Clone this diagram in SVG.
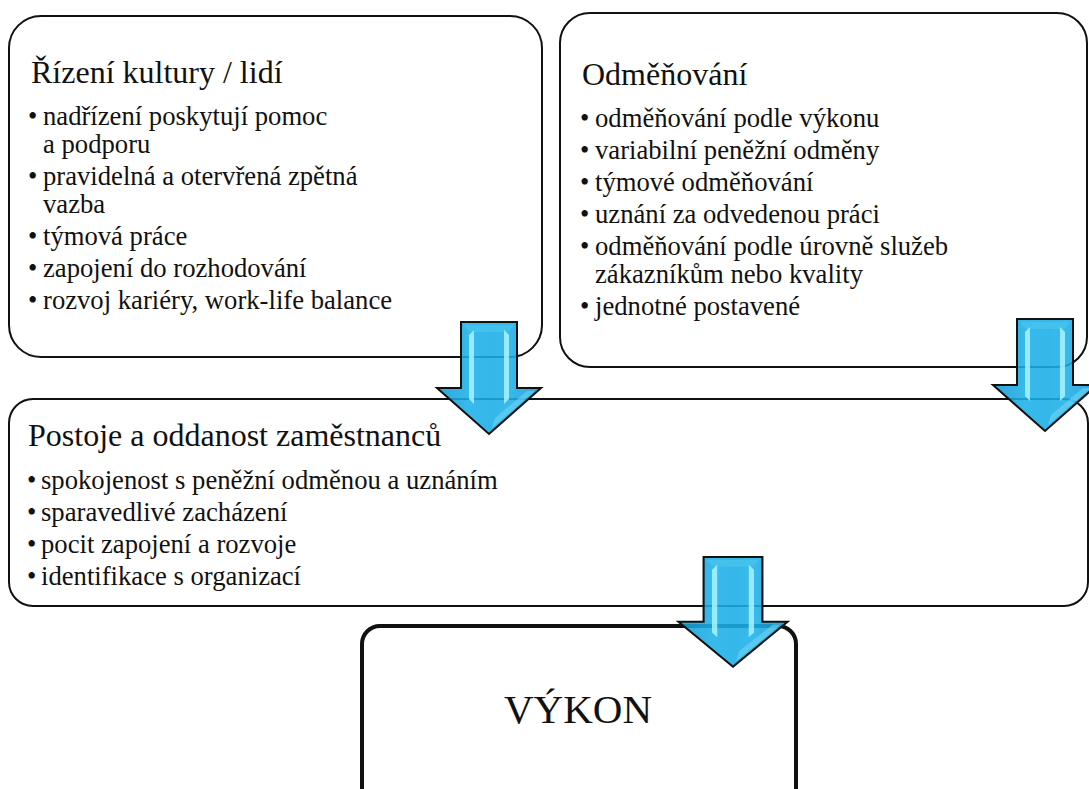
<svg xmlns="http://www.w3.org/2000/svg" xmlns:xlink="http://www.w3.org/1999/xlink" width="1089" height="789" viewBox="0 0 1089 789">
<style>
.box{fill:#fff;stroke:#111;stroke-width:2}
.box4{fill:#fff;stroke:#111;stroke-width:4}
text{fill:#111}
.title{font-size:32px}
.item{font-size:26.67px}
.big{font-size:41px}
</style>
<defs>
<linearGradient id="ag" gradientUnits="userSpaceOnUse" x1="-52" y1="0" x2="52" y2="0">
<stop offset="0" stop-color="#1599d2"/>
<stop offset="0.3" stop-color="#1cb0e8"/>
<stop offset="0.5" stop-color="#19ade6"/>
<stop offset="0.7" stop-color="#1cb0e8"/>
<stop offset="1" stop-color="#1599d2"/>
</linearGradient>
<g id="arrow">
<path d="M-28,0 H28 V66 H52 L0,112 L-52,66 H-28 Z" fill="url(#ag)" fill-opacity="0.88" stroke="#111" stroke-width="2" stroke-linejoin="miter"/>
<path d="M-25,3 H25 L19,10 H-19 Z" fill="#4cc8ee" opacity="0.6"/>
<path d="M-20,13 L-15,8 L-15,82 L-20,77 Z" fill="#a8f3ff" opacity="0.85"/>
<path d="M15,8 L20,13 L20,77 L15,82 Z" fill="#a8f3ff" opacity="0.85"/>
<path d="M46,69 L3,106 L6,96 L38,69 Z" fill="#6fd6f2" opacity="0.6"/>
</g>
</defs>

<g id="node-rizeni" font-family="'Liberation Serif', 'Times New Roman', 'DejaVu Serif', serif">
<rect class="box" x="9" y="16" width="533" height="341" rx="32"/>
<text class="title" x="31" y="83">Řízení kultury / lidí</text>
<text class="item" x="28" y="125">•</text><text class="item" x="43" y="125">nadřízení poskytují pomoc</text>
<text class="item" x="43" y="153">a podporu</text>
<text class="item" x="28" y="185">•</text><text class="item" x="43" y="185">pravidelná a otervřená zpětná</text>
<text class="item" x="43" y="213">vazba</text>
<text class="item" x="28" y="245">•</text><text class="item" x="43" y="245">týmová práce</text>
<text class="item" x="28" y="277">•</text><text class="item" x="43" y="277">zapojení do rozhodování</text>
<text class="item" x="28" y="309">•</text><text class="item" x="43" y="309">rozvoj kariéry, work-life balance</text>
</g>

<g id="node-odmenovani" font-family="'Liberation Serif', 'Times New Roman', 'DejaVu Serif', serif">
<rect class="box" x="560" y="13" width="527" height="354" rx="30"/>
<text class="title" x="582" y="85">Odměňování</text>
<text class="item" x="580" y="127">•</text><text class="item" x="595" y="127">odměňování podle výkonu</text>
<text class="item" x="580" y="159">•</text><text class="item" x="595" y="159">variabilní peněžní odměny</text>
<text class="item" x="580" y="191">•</text><text class="item" x="595" y="191">týmové odměňování</text>
<text class="item" x="580" y="223">•</text><text class="item" x="595" y="223">uznání za odvedenou práci</text>
<text class="item" x="580" y="255">•</text><text class="item" x="595" y="255">odměňování podle úrovně služeb</text>
<text class="item" x="595" y="283">zákazníkům nebo kvality</text>
<text class="item" x="580" y="315">•</text><text class="item" x="595" y="315">jednotné postavené</text>
</g>

<g id="node-postoje" font-family="'Liberation Serif', 'Times New Roman', 'DejaVu Serif', serif">
<rect class="box" x="9" y="399" width="1079" height="207" rx="24"/>
<text class="title" x="28" y="446">Postoje a oddanost zaměstnanců</text>
<text class="item" x="27" y="489">•</text><text class="item" x="41" y="489">spokojenost s peněžní odměnou a uznáním</text>
<text class="item" x="27" y="521">•</text><text class="item" x="41" y="521">sparavedlivé zacházení</text>
<text class="item" x="27" y="553">•</text><text class="item" x="41" y="553">pocit zapojení a rozvoje</text>
<text class="item" x="27" y="585">•</text><text class="item" x="41" y="585">identifikace s organizací</text>
</g>

<g id="node-vykon" font-family="'Liberation Serif', 'Times New Roman', 'DejaVu Serif', serif">
<rect class="box4" x="362" y="626" width="434" height="190" rx="18"/>
<text class="big" x="578" y="723" text-anchor="middle">VÝKON</text>
</g>

<g id="connectors">
<use xlink:href="#arrow" transform="translate(489,322)"/>
<use xlink:href="#arrow" transform="translate(1045,319)"/>
<use xlink:href="#arrow" transform="translate(733,557) scale(1.05,0.98)"/>
</g>
</svg>
